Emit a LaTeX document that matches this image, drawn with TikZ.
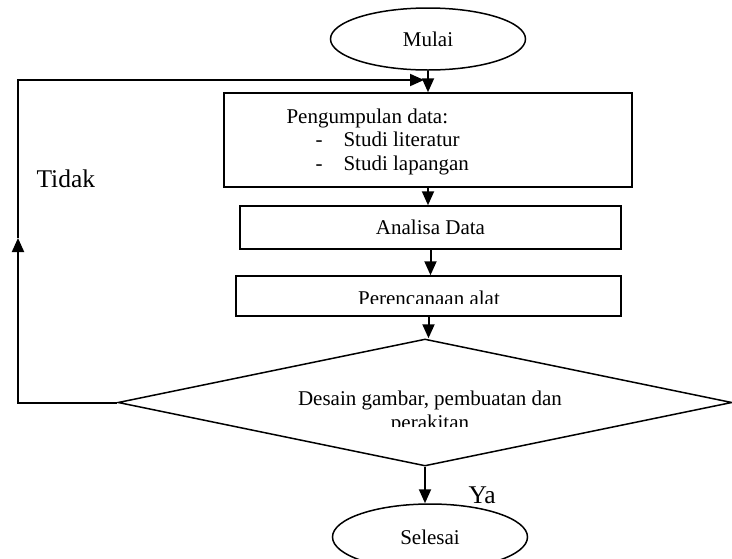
\documentclass[tikz,border=0pt]{standalone}
\usepackage{fontspec}
\setmainfont{Liberation Serif}
\usetikzlibrary{shapes.geometric,arrows.meta}
\tikzset{term/.style={draw,ellipse,line width=1.5pt,minimum width=195pt,minimum height=62pt,inner sep=0pt},
	proc/.style={draw,rectangle,line width=1.5pt,inner sep=0pt},
	flow/.style={->,line width=2pt}}
\begin{document}
\begin{tikzpicture}[x=1pt,y=-1pt,font=\fontsize{21}{23.5}\selectfont,>={Triangle[length=14pt,width=12pt]}]
			\useasboundingbox (0,0) rectangle (732,558);
			\node[term] (mulai) at (428,39) {Mulai};
			\node[proc,minimum width=408pt,minimum height=94pt] (kumpul) at (428,140) {};
			\node[anchor=base west,align=left] (tkumpul) at (283,170) {Pengumpulan data:\\\hspace*{29pt}\makebox[28pt][l]{-}Studi literatur\\\hspace*{29pt}\makebox[28pt][l]{-}Studi lapangan};
			\node[proc,minimum width=381pt,minimum height=43pt] (analisa) at (430.5,227.5) {Analisa Data};
			\node[proc,minimum width=385pt,minimum height=40pt] (rencana) at (428.5,296) {};
			\begin{scope}\clip (236,276) rectangle (621,303);
			\node[anchor=base] (trencana) at (429,305.5) {Perencanaan alat};\end{scope}
			\node[draw,diamond,line width=1.5pt,minimum width=614pt,minimum height=127pt,inner sep=0pt] (desain) at (425,402.5) {};
			\begin{scope}\clip (150,370) rectangle (700,426);
			\node[anchor=base,align=center] (tdesain) at (430,429) {Desain gambar, pembuatan dan\\perakitan};\end{scope}
			\node[term,minimum height=66pt] (selesai) at (430,537) {Selesai};
			\coordinate (kiri) at (18,402.5);\coordinate (naik) at (18,238);\coordinate (atas) at (18,80);\coordinate (masuk) at (424,80);
			\draw[flow] (mulai.south) -- (mulai.south |- kumpul.north);
			\draw[flow] (kumpul.south) -- (kumpul.south |- analisa.north);
			\draw[flow] (analisa.south) -- (analisa.south |- rencana.north);
			\draw[flow] (rencana.south) -- (rencana.south |- desain.north);
			\draw[flow] (desain.south) -- (desain.south |- selesai.north);
			\draw[flow] (desain.west) -- (kiri) -- (naik);
			\draw[flow] (naik) -- (atas) -- (masuk);
			\node[anchor=base west,font=\fontsize{25.5}{28}\selectfont] (tidak) at (33,187) {Tidak};
			\node[anchor=base west,font=\fontsize{25.5}{28}\selectfont] (ya) at (465,503) {Ya};
\end{tikzpicture}
\end{document}
